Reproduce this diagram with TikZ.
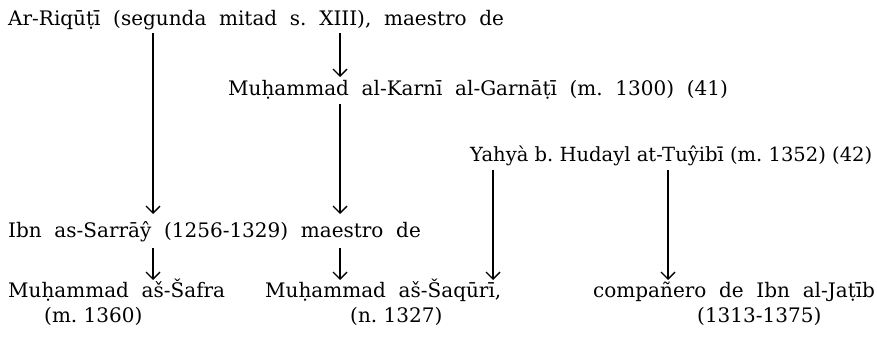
\documentclass[tikz,border=0pt]{standalone}
\usepackage{fontspec}
\setmainfont{DejaVu Serif}
\usetikzlibrary{arrows.meta}
\newcommand\rowfont[2]{\fontsize{#1}{#1}\selectfont\spaceskip=#2pt\relax\xspaceskip=#2pt\relax}
\begin{document}
\begin{tikzpicture}[x=1pt,y=-1pt,
  lbl/.style={anchor=base west,inner sep=0pt},
  big/.style={font=\rowfont{20}{12.7}},
  arr/.style={line width=1.4pt,-{Straight Barb[length=7pt,width=14pt,line width=1.4pt]}}]
\useasboundingbox (0,0) rectangle (877,339);
\node[lbl,big] (r1) at (8,26) {Ar-Riqūṭī (segunda mitad s. XIII), maestro de};
\node[lbl,big] (r2) at (228,96) {Muḥammad al-Karnī al-Garnāṭī (m. 1300) (41)};
\node[lbl,font=\rowfont{19.5}{6.3}] (r3) at (470,161) {Yahyà b. Hudayl at-Tuŷibī (m. 1352) (42)};
\node[lbl,big] (r4) at (8,237) {Ibn as-Sarrāŷ (1256-1329) maestro de};
\node[lbl,big] (r5a) at (8,297) {Muḥammad aš-Šafra};
\node[lbl,font=\rowfont{20}{6.4}] (r6a) at (44,322) {(m. 1360)};
\node[lbl,big] (r5b) at (265,297) {Muḥammad aš-Šaqūrī,};
\node[lbl,font=\rowfont{20}{6.4}] (r6b) at (350,322) {(n. 1327)};
\node[lbl,big] (r5c) at (593,297) {compañero de Ibn al-Jaṭīb};
\node[lbl,font=\rowfont{20}{6.4}] (r6c) at (697,322) {(1313-1375)};
\coordinate (xa) at (153,0);
\coordinate (xb) at (340,0);
\coordinate (xc) at (493,0);
\coordinate (xd) at (668,0);
\draw[arr] ([yshift=-7pt]r1.base -| xa) -- ([yshift=23pt]r4.base -| xa);
\draw[arr] ([yshift=-7pt]r1.base -| xb) -- ([yshift=19pt]r2.base -| xb);
\draw[arr] ([yshift=-8pt]r2.base -| xb) -- ([yshift=23pt]r4.base -| xb);
\draw[arr] ([yshift=-11pt]r4.base -| xa) -- ([yshift=17pt]r5a.base -| xa);
\draw[arr] ([yshift=-11pt]r4.base -| xb) -- ([yshift=17pt]r5b.base -| xb);
\draw[arr] ([yshift=-9pt]r3.base -| xc) -- ([yshift=17pt]r5b.base -| xc);
\draw[arr] ([yshift=-9pt]r3.base -| xd) -- ([yshift=17pt]r5c.base -| xd);
\end{tikzpicture}
\end{document}
